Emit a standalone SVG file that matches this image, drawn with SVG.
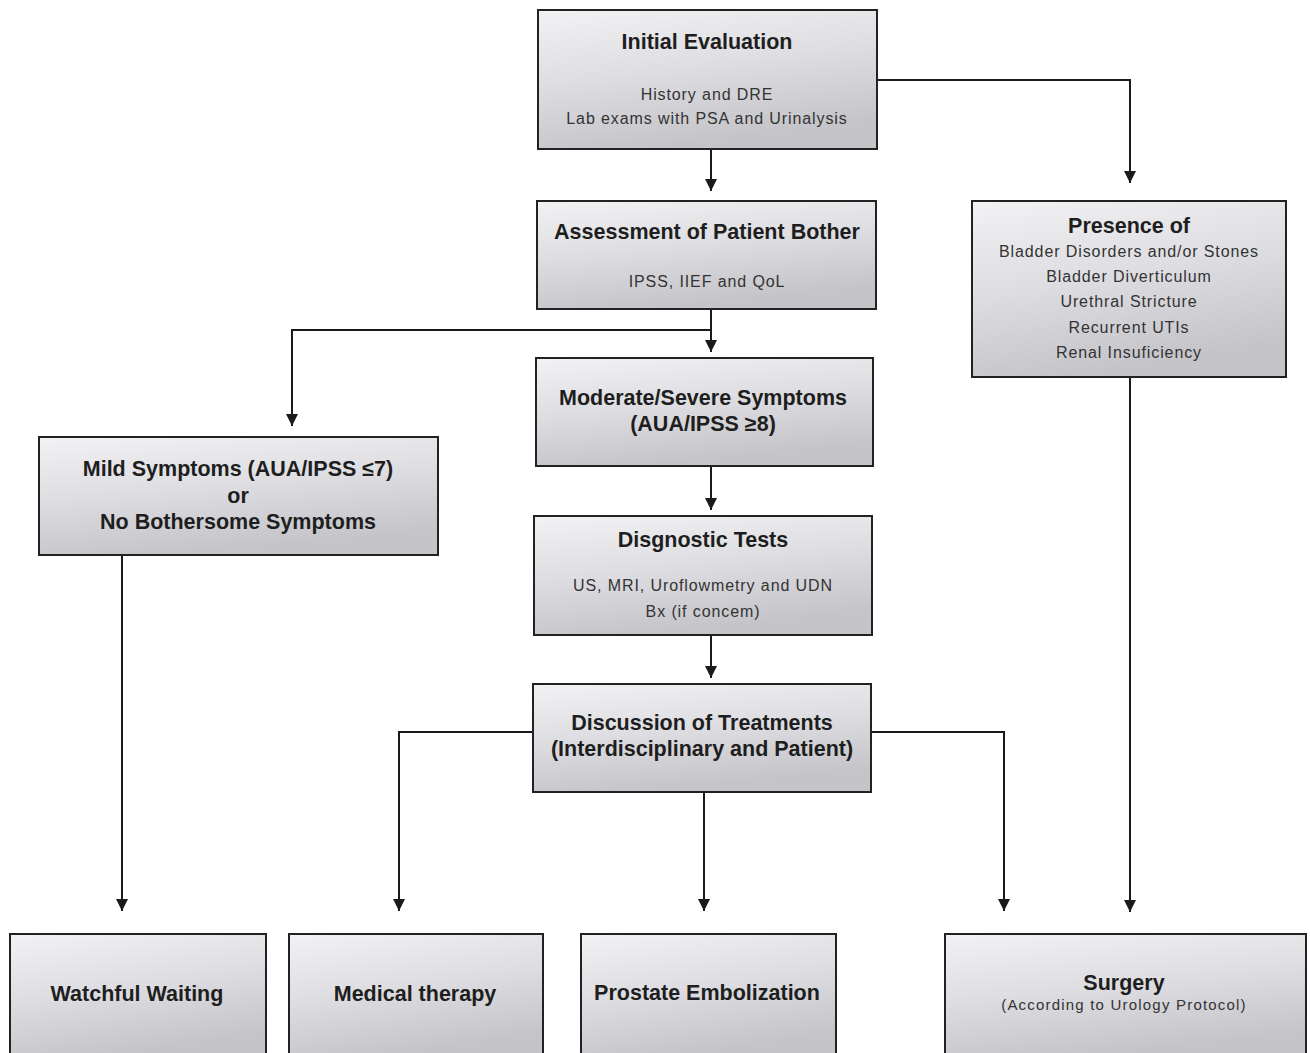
<svg xmlns="http://www.w3.org/2000/svg" width="1310" height="1053" viewBox="0 0 1310 1053">
<defs>
<linearGradient id="g" x1="0" y1="0" x2="0.3" y2="1">
<stop offset="0" stop-color="#f2f2f4"/>
<stop offset="0.5" stop-color="#dedee2"/>
<stop offset="1" stop-color="#c4c4c9"/>
</linearGradient>
<marker id="ah" markerWidth="12" markerHeight="12" refX="12" refY="6" orient="auto" markerUnits="userSpaceOnUse" viewBox="0 0 12 12">
<path d="M0,0 L12,6 L0,12 Z" fill="#1a1a1a"/>
</marker>
</defs>
<style>
.box{fill:url(#g);stroke:#222;stroke-width:2}
.t{font-family:"Liberation Sans",Arial,sans-serif;font-weight:bold;font-size:21.5px;fill:#1e1e1e;text-anchor:middle}
.s{font-family:"Liberation Sans",Arial,sans-serif;font-size:16px;letter-spacing:0.9px;fill:#333;text-anchor:middle}
.c{fill:none;stroke:#1a1a1a;stroke-width:2}
.ca{fill:none;stroke:#1a1a1a;stroke-width:2;marker-end:url(#ah)}
</style>
<rect width="1310" height="1053" fill="#ffffff"/>
<g id="connectors">
<path class="ca" d="M711,149 V191"/>
<path class="ca" d="M877,80 H1130 V183"/>
<path class="c" d="M711,309 V330"/>
<path class="ca" d="M711,330 V352"/>
<path class="ca" d="M711,330 H292 V426"/>
<path class="ca" d="M711,466 V510"/>
<path class="ca" d="M711,635 V678"/>
<path class="ca" d="M533,732 H399 V911"/>
<path class="ca" d="M871,732 H1004 V911"/>
<path class="ca" d="M704,792 V911"/>
<path class="ca" d="M122,555 V911"/>
<path class="ca" d="M1130,377 V912"/>
</g>
<g id="initial-evaluation">
<rect class="box" x="538" y="10" width="339" height="139"/>
<text class="t" x="707" y="49">Initial Evaluation</text>
<text class="s" x="707" y="100">History and DRE</text>
<text class="s" x="707" y="124">Lab exams with PSA and Urinalysis</text>
</g>
<g id="assessment">
<rect class="box" x="537" y="201" width="339" height="108"/>
<text class="t" x="707" y="239">Assessment  of Patient Bother</text>
<text class="s" x="707" y="287">IPSS, IIEF and QoL</text>
</g>
<g id="presence">
<rect class="box" x="972" y="201" width="314" height="176"/>
<text class="t" x="1129" y="233">Presence  of</text>
<text class="s" x="1129" y="257">Bladder Disorders and/or Stones</text>
<text class="s" x="1129" y="282">Bladder Diverticulum</text>
<text class="s" x="1129" y="307">Urethral Stricture</text>
<text class="s" x="1129" y="333">Recurrent UTIs</text>
<text class="s" x="1129" y="358">Renal Insuficiency</text>
</g>
<g id="moderate">
<rect class="box" x="536" y="358" width="337" height="108"/>
<text class="t" x="703" y="405">Moderate/Severe  Symptoms</text>
<text class="t" x="703" y="431">(AUA/IPSS ≥8)</text>
</g>
<g id="mild">
<rect class="box" x="39" y="437" width="399" height="118"/>
<text class="t" x="238" y="476">Mild Symptoms (AUA/IPSS ≤7)</text>
<text class="t" x="238" y="503">or</text>
<text class="t" x="238" y="529">No Bothersome  Symptoms</text>
</g>
<g id="diagnostic">
<rect class="box" x="534" y="516" width="338" height="119"/>
<text class="t" x="703" y="547">Disgnostic  Tests</text>
<text class="s" x="703" y="591">US, MRI, Uroflowmetry and UDN</text>
<text class="s" x="703" y="617">Bx (if concem)</text>
</g>
<g id="discussion">
<rect class="box" x="533" y="684" width="338" height="108"/>
<text class="t" x="702" y="730">Discussion of Treatments</text>
<text class="t" x="702" y="756">(Interdisciplinary  and Patient)</text>
</g>
<g id="watchful">
<rect class="box" x="10" y="934" width="256" height="125"/>
<text class="t" x="137" y="1001">Watchful  Waiting</text>
</g>
<g id="medical">
<rect class="box" x="289" y="934" width="254" height="125"/>
<text class="t" x="415" y="1001">Medical therapy</text>
</g>
<g id="embolization">
<rect class="box" x="581" y="934" width="255" height="125"/>
<text class="t" x="707" y="1000">Prostate  Embolization</text>
</g>
<g id="surgery">
<rect class="box" x="945" y="934" width="361" height="125"/>
<text class="t" x="1124" y="990">Surgery</text>
<text class="s" x="1124" y="1010" style="font-size:15px;letter-spacing:1.2px">(According to Urology Protocol)</text>
</g>
</svg>
